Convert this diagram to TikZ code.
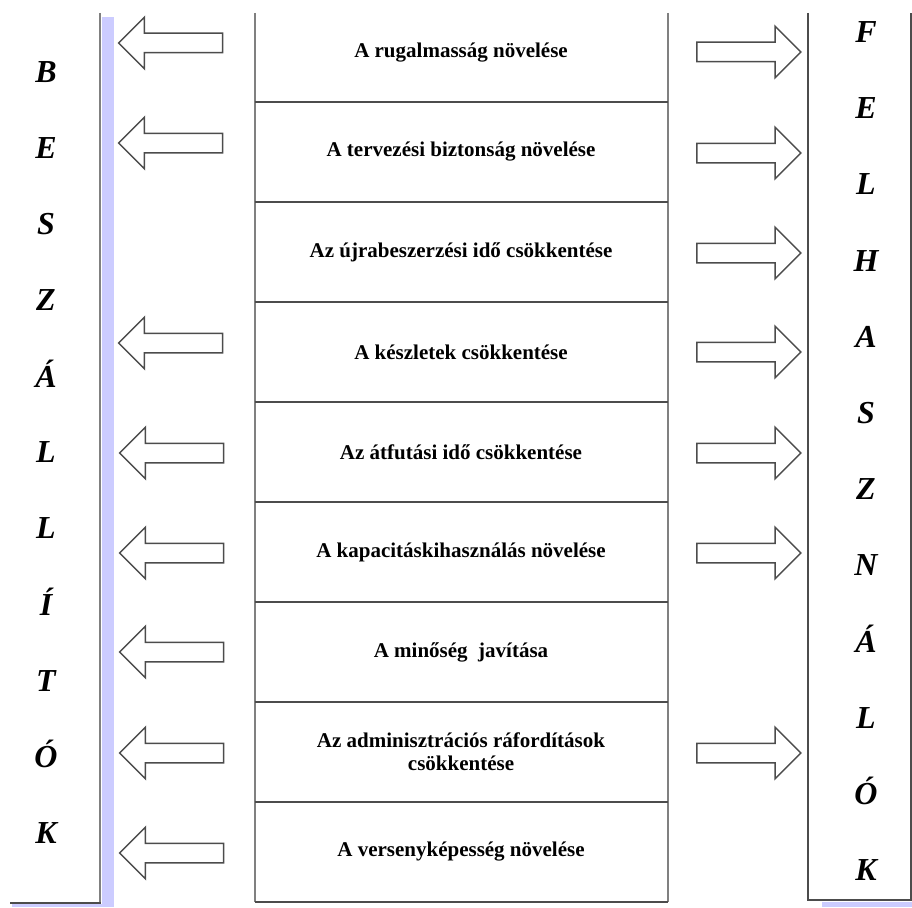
\documentclass[tikz,border=0pt]{standalone}
\usepackage{fontspec}
\setmainfont{Liberation Serif}
\usepackage{tikz}
\usetikzlibrary{shapes.arrows,positioning}
\definecolor{arnyek}{HTML}{CCCCFF}
\tikzset{
    cella/.style={rectangle,draw=none,minimum width=413pt,minimum height=100pt,inner sep=0pt,outer sep=0pt,align=center,node font=\fontsize{21}{23}\selectfont\bfseries},
    betu/.style={anchor=base,inner sep=0pt,node font=\fontsize{32}{34}\selectfont\bfseries\itshape},
    nyil/.style={single arrow,draw=black!70,line width=1.5pt,fill=white,minimum height=104pt,inner xsep=0pt,inner ysep=9pt,single arrow head extend=16pt,single arrow tip angle=90},
    balnyil/.style={nyil,shape border rotate=180},
    jobbnyil/.style={nyil},
    hatar/.style={draw=gray,line width=2pt},
    valaszto/.style={draw=black!70,line width=2pt},
}
\begin{document}
\begin{tikzpicture}[x=1pt,y=-1pt]
    \useasboundingbox (0,0) rectangle (912,907);
    % arnyekok
    \fill [arnyek] (102,17) rectangle (114,907);
    \fill [arnyek] (12,904) rectangle (102,907);
    \fill [arnyek] (822,902) rectangle (912,907);
    % bal es jobb keret
    \draw [hatar] (100,13) -- (100,903);
    \draw [valaszto] (10,903) -- (101,903);
    \draw [valaszto] (808,13) -- (808,900) -- (911,900) -- (911,13);
    % kozepso oszlop
    \node [cella,minimum height=99pt] (c1) at (461,52.5) {A rugalmasság növelése};
    \node [cella,below=0pt of c1] (c2) {A tervezési biztonság növelése};
    \node [cella,below=0pt of c2] (c3) {Az újrabeszerzési idő csökkentése};
    \node [cella,below=0pt of c3] (c4) {A készletek csökkentése};
    \node [cella,below=0pt of c4] (c5) {Az átfutási idő csökkentése};
    \node [cella,below=0pt of c5] (c6) {A kapacitáskihasználás növelése};
    \node [cella,below=0pt of c6] (c7) {A minőség\ \ javítása};
    \node [cella,below=0pt of c7] (c8) {Az adminisztrációs ráfordítások\\csökkentése};
    \node [cella,below=0pt of c8] (c9) {A versenyképesség növelése};
    \draw [hatar] (c1.north west) ++(0,10) -- (c9.south west);
    \draw [hatar] (c1.north east) ++(0,10) -- (c9.south east);
    \draw [valaszto] (c1.south west) -- (c1.south east);
    \draw [valaszto] (c2.south west) -- (c2.south east);
    \draw [valaszto] (c3.south west) -- (c3.south east);
    \draw [valaszto] (c4.south west) -- (c4.south east);
    \draw [valaszto] (c5.south west) -- (c5.south east);
    \draw [valaszto] (c6.south west) -- (c6.south east);
    \draw [valaszto] (c7.south west) -- (c7.south east);
    \draw [valaszto] (c8.south west) -- (c8.south east);
    \draw [valaszto] (c9.south west) -- (c9.south east);
    % nyilak a beszallitok fele
    \node [balnyil] (b1) at (175.5,43) {};
    \node [balnyil] (b2) at (175.5,143) {};
    \node [balnyil] (b4) at (175.5,343) {};
    \node [balnyil] (b5) at (176.5,453) {};
    \node [balnyil] (b6) at (176.5,553) {};
    \node [balnyil] (b7) at (176.5,652) {};
    \node [balnyil] (b8) at (176.5,753) {};
    \node [balnyil] (b9) at (176.5,853) {};
    % nyilak a felhasznalok fele
    \node [jobbnyil] (j1) at (744,52) {};
    \node [jobbnyil] (j2) at (744,153) {};
    \node [jobbnyil] (j3) at (744,253) {};
    \node [jobbnyil] (j4) at (744,352) {};
    \node [jobbnyil] (j5) at (744,453) {};
    \node [jobbnyil] (j6) at (744,553) {};
    \node [jobbnyil] (j8) at (744,753) {};
    % BESZALLITOK
    \node [betu] (bl1) at (46,82) {B};
    \node [betu] (bl2) at (46,158) {E};
    \node [betu] (bl3) at (46,234) {S};
    \node [betu] (bl4) at (46,310) {Z};
    \node [betu] (bl5) at (46,387) {Á};
    \node [betu] (bl6) at (46,462) {L};
    \node [betu] (bl7) at (46,538) {L};
    \node [betu] (bl8) at (46,615) {Í};
    \node [betu] (bl9) at (46,691) {T};
    \node [betu] (bl10) at (46,767) {Ó};
    \node [betu] (bl11) at (46,843) {K};
    % FELHASZNALOK
    \node [betu] (jl1) at (866,42) {F};
    \node [betu] (jl2) at (866,118) {E};
    \node [betu] (jl3) at (866,194) {L};
    \node [betu] (jl4) at (866,271) {H};
    \node [betu] (jl5) at (866,347) {A};
    \node [betu] (jl6) at (866,423) {S};
    \node [betu] (jl7) at (866,499) {Z};
    \node [betu] (jl8) at (866,575) {N};
    \node [betu] (jl9) at (866,652) {Á};
    \node [betu] (jl10) at (866,728) {L};
    \node [betu] (jl11) at (866,804) {Ó};
    \node [betu] (jl12) at (866,880) {K};
\end{tikzpicture}
\end{document}
